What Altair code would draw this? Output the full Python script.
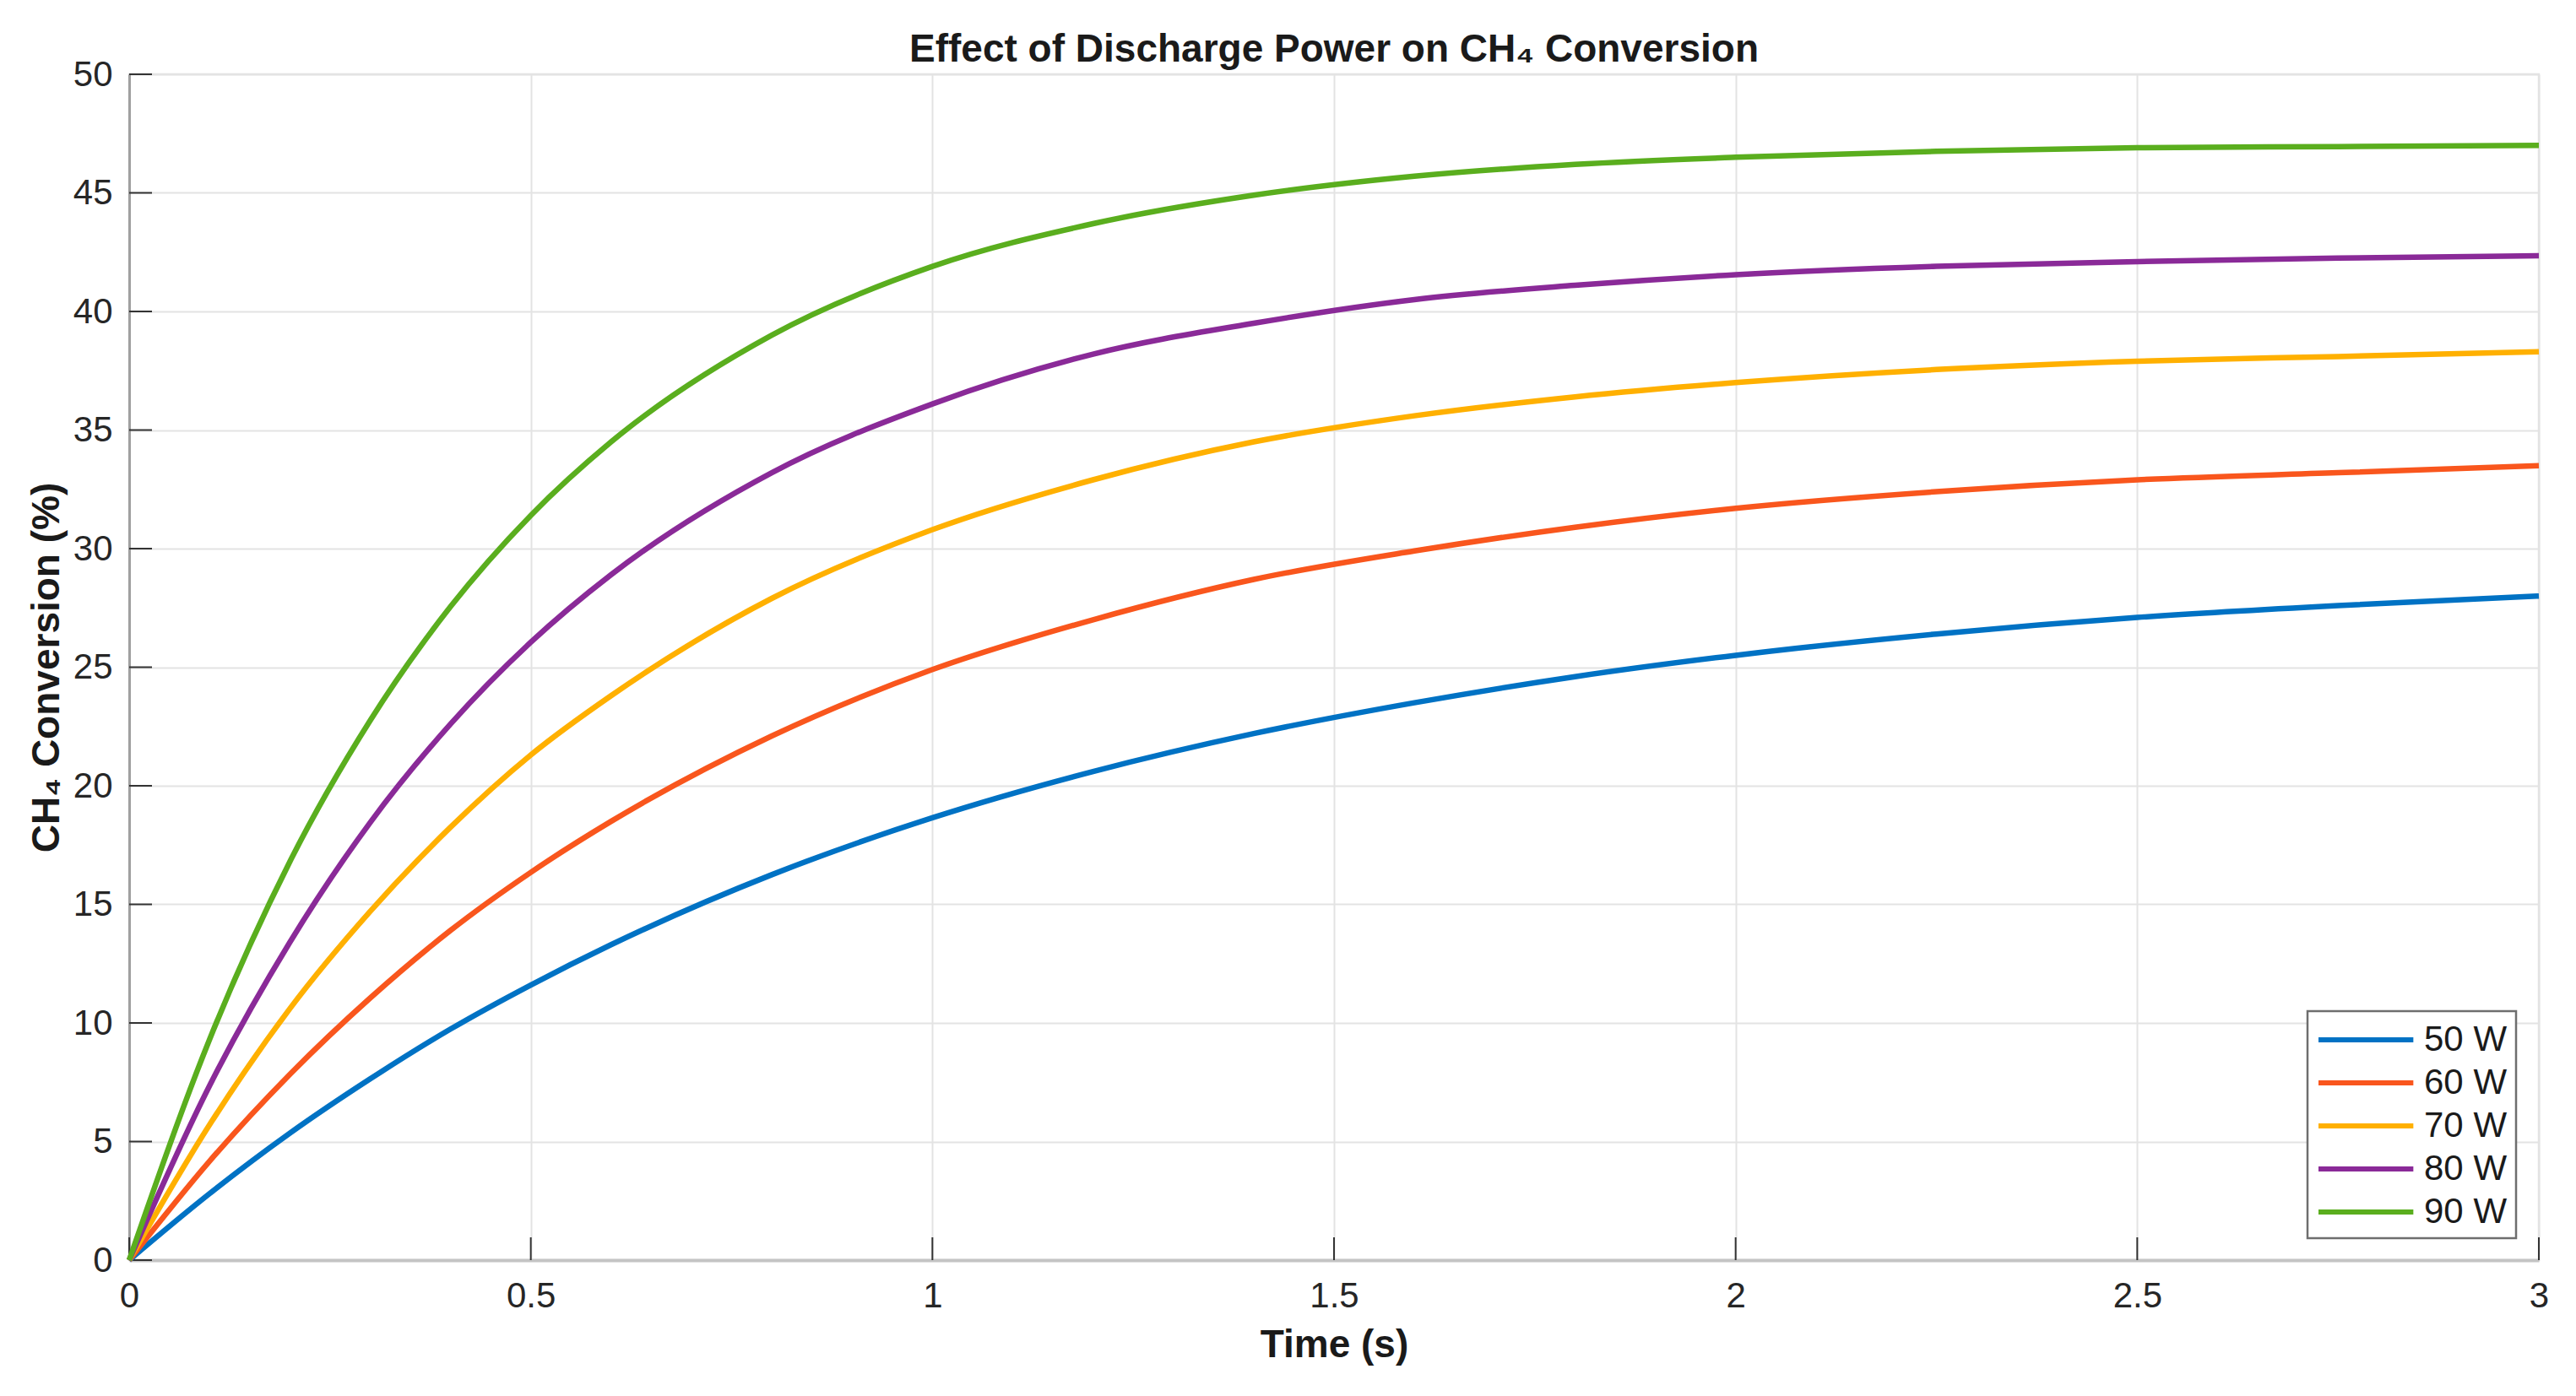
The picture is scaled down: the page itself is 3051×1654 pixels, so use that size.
import altair as alt
import pandas as pd

# ---- data ----
time_s = [0, 0.1, 0.2, 0.3, 0.4, 0.5, 0.6, 0.8, 1.0, 1.2, 1.4, 1.6, 1.8, 2.0, 2.25, 2.5, 2.75, 3.0]
conv_50w = [0, 2.80, 5.35, 7.64, 9.74, 11.6, 13.3, 16.25, 18.65, 20.6, 22.2, 23.5, 24.6, 25.5, 26.4, 27.1, 27.6, 28.0]
conv_60w = [0, 4.17, 7.83, 11.05, 13.9, 16.35, 18.5, 22.1, 24.9, 27.0, 28.7, 29.9, 30.9, 31.7, 32.4, 32.9, 33.2, 33.5]
conv_70w = [0, 5.7, 10.6, 14.7, 18.25, 21.3, 23.8, 27.9, 30.8, 32.9, 34.5, 35.6, 36.4, 37.0, 37.55, 37.9, 38.1, 38.3]
conv_80w = [0, 7.35, 13.4, 18.45, 22.6, 26.05, 28.9, 33.2, 36.1, 38.2, 39.5, 40.5, 41.1, 41.55, 41.9, 42.1, 42.25, 42.35]
conv_90w = [0, 9.3, 16.8, 22.75, 27.55, 31.4, 34.5, 39.0, 41.9, 43.7, 44.9, 45.7, 46.2, 46.5, 46.75, 46.9, 46.95, 47.0]

series_names = ["50 W", "60 W", "70 W", "80 W", "90 W"]
series_values = [conv_50w, conv_60w, conv_70w, conv_80w, conv_90w]
series_colors = ["#0072C4", "#F9561D", "#FFB000", "#8A2A98", "#5AAE1E"]

x_ticks = [0, 0.5, 1, 1.5, 2, 2.5, 3]
y_ticks = [0, 5, 10, 15, 20, 25, 30, 35, 40, 45, 50]

title_text = "Effect of Discharge Power on CH₄ Conversion"
x_title = "Time (s)"
y_title = "CH₄ Conversion (%)"

# ---- tables ----
rows = []
for name, vals in zip(series_names, series_values):
    for t, v in zip(time_s, vals):
        rows.append({"t": t, "conv": v, "power": name})
df = pd.DataFrame(rows)
df_xt = pd.DataFrame({"t": x_ticks})
df_yt = pd.DataFrame({"conv": y_ticks})

FONT = "Liberation Sans"
W, H = 2854, 1405
TICK_LEN = 27

x_scale = alt.Scale(domain=[0, 3], nice=False, zero=False)
y_scale = alt.Scale(domain=[0, 50], nice=False)

x_axis = alt.Axis(
    values=x_ticks, format="~g", title=x_title, ticks=False, labelFlush=False,
    labelFontSize=42, labelPadding=22, titleFontSize=46, titleFontWeight="bold",
    titlePadding=15, grid=True, gridColor="#e3e3e3", gridWidth=2,
    domainColor="#c4c4c4", domainWidth=4, labelColor="#262626", titleColor="#1a1a1a",
    labelFont=FONT, titleFont=FONT,
)
y_axis = alt.Axis(
    values=y_ticks, title=y_title, ticks=False, labelFlush=False,
    labelFontSize=42, labelPadding=20, titleFontSize=46, titleFontWeight="bold",
    titlePadding=7, grid=True, gridColor="#e3e3e3", gridWidth=2,
    domainColor="#a0a0a0", domainWidth=3, labelColor="#262626", titleColor="#1a1a1a",
    labelFont=FONT, titleFont=FONT,
)

lines = alt.Chart(df).mark_line(strokeWidth=6.5, interpolate="monotone").encode(
    x=alt.X("t:Q", scale=x_scale, axis=x_axis),
    y=alt.Y("conv:Q", scale=y_scale, axis=y_axis),
    color=alt.Color(
        "power:N",
        scale=alt.Scale(domain=series_names, range=series_colors),
        sort=series_names,
        legend=alt.Legend(
            title=None, orient="none", legendX=2580, legendY=1110,
            symbolType="M-1,0H4.35", symbolSize=1764, symbolStrokeWidth=6,
            labelFontSize=42, labelFont=FONT, labelColor="#1a1a1a",
            padding=10, rowPadding=6, labelOffset=80,
            strokeColor="#6e6e6e", fillColor="white",
        ),
    ),
    order=alt.Order("t:Q"),
)

xticks_layer = alt.Chart(df_xt).mark_rule(color="#333333", strokeWidth=2).encode(
    x=alt.X("t:Q", scale=x_scale, axis=x_axis),
    y=alt.value(H),
    y2=alt.value(H - TICK_LEN),
)
yticks_layer = alt.Chart(df_yt).mark_rule(color="#333333", strokeWidth=2).encode(
    y=alt.Y("conv:Q", scale=y_scale, axis=y_axis),
    x=alt.value(0),
    x2=alt.value(TICK_LEN),
)

chart = alt.layer(xticks_layer, yticks_layer, lines).properties(
    width=W, height=H,
    title=alt.TitleParams(
        text=title_text, fontSize=46, fontWeight="bold", font=FONT,
        anchor="middle", frame="group", color="#1a1a1a", offset=12, dy=28,
    ),
    padding={"left": 145, "top": 80, "right": 36, "bottom": 153},
    autosize=alt.AutoSizeParams(type="none"),
).configure_view(
    stroke="#e3e3e3", strokeWidth=2.5
).configure_legend(
    strokeWidth=2.5
)

chart.save("out.html", embed_options={"renderer": "svg", "actions": False})
